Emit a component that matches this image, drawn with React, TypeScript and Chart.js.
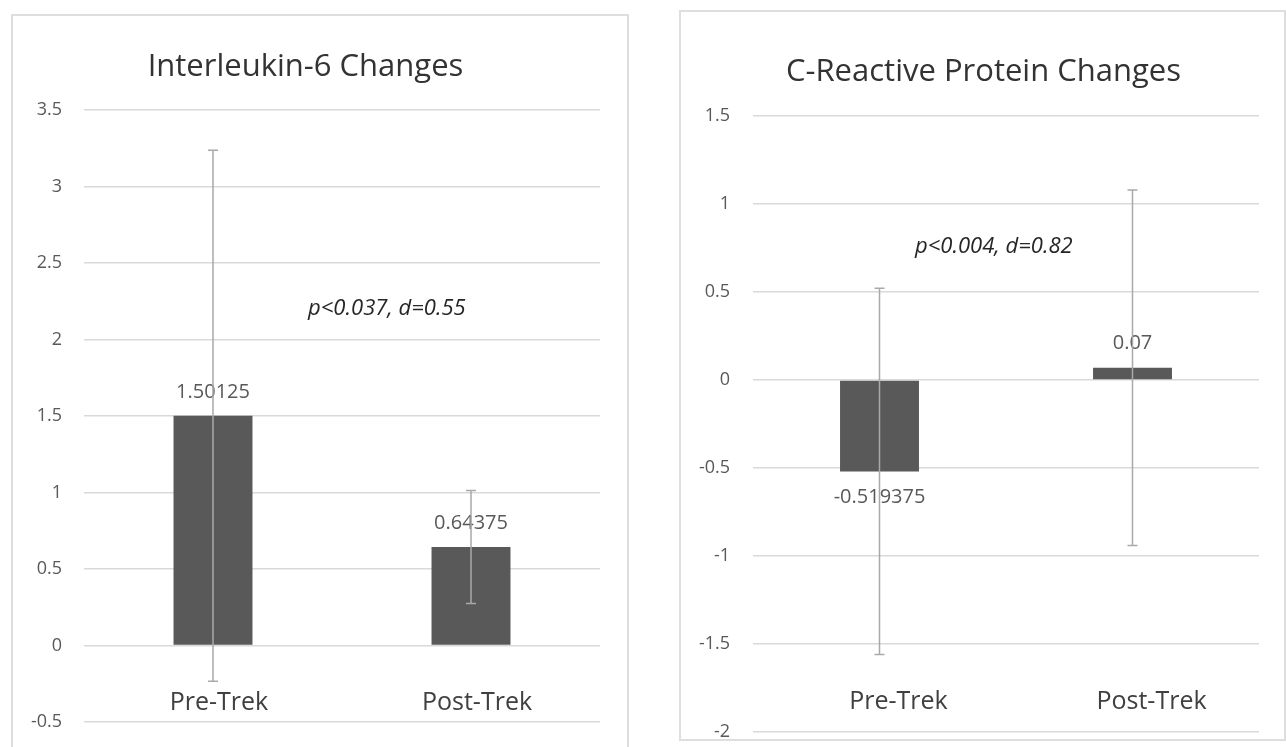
import React, { useEffect, useRef } from "react";
import { Chart, registerables } from "chart.js";

Chart.register(...registerables);

// ---------- data ----------
const CATEGORIES = ["Pre-Trek", "Post-Trek"];

const IL6_TITLE = "Interleukin-6 Changes";
const IL6_VALUES = [1.50125, 0.64375];
const IL6_ERRORS = [1.735, 0.37];
const IL6_TICKS = [-0.5, 0, 0.5, 1, 1.5, 2, 2.5, 3, 3.5];
const IL6_NOTE = "p<0.037, d=0.55";

const CRP_TITLE = "C-Reactive Protein Changes";
const CRP_VALUES = [-0.519375, 0.07];
const CRP_ERRORS = [1.04, 1.01];
const CRP_TICKS = [-2, -1.5, -1, -0.5, 0, 0.5, 1, 1.5];
const CRP_NOTE = "p<0.004, d=0.82";

const FONT = "'Open Sans', 'Noto Sans', sans-serif";

const overlayPlugin = {
  id: "overlay",
  afterDatasetsDraw(chart: any, _args: any, opts: any) {
    const { ctx } = chart;
    const x = chart.scales.x;
    const y = chart.scales.y;
    const meta = chart.getDatasetMeta(0);
    const data = chart.data.datasets[0].data as number[];
    ctx.save();
    // data labels
    ctx.font = `20px ${FONT}`;
    ctx.fillStyle = "#595959";
    ctx.textAlign = "center";
    ctx.textBaseline = "middle";
    meta.data.forEach((bar: any, i: number) => {
      const v = data[i];
      const yy = v >= 0 ? bar.y - 24 : bar.y + 26;
      ctx.fillText(String(v), bar.x, yy);
    });
    // error bars
    ctx.strokeStyle = "#a9a9a9";
    ctx.lineWidth = 1.5;
    const cap = 5;
    meta.data.forEach((bar: any, i: number) => {
      const v = data[i];
      const e = opts.errors[i];
      const cx = bar.x;
      const top = y.getPixelForValue(v + e);
      const bot = y.getPixelForValue(v - e);
      ctx.beginPath();
      ctx.moveTo(cx, top);
      ctx.lineTo(cx, bot);
      ctx.moveTo(cx - cap, top);
      ctx.lineTo(cx + cap, top);
      ctx.moveTo(cx - cap, bot);
      ctx.lineTo(cx + cap, bot);
      ctx.stroke();
    });
    // annotation
    ctx.font = `italic 22px ${FONT}`;
    ctx.fillStyle = "#262626";
    ctx.fillText(
      opts.note,
      x.getPixelForValue(opts.noteAt[0]),
      y.getPixelForValue(opts.noteAt[1])
    );
    ctx.restore();
  },
};

type PanelCfg = {
  title: string;
  values: number[];
  errors: number[];
  ticks: number[];
  note: string;
  noteAt: [number, number];
  xAxisAt: number;
  xLabelShift: number;
  width: number;
  height: number;
  rightGap: number;
  padBottom: number;
  yWidth: number;
  yPad: number;
  titlePadTop: number;
  titlePadBottom: number;
  barPct: number;
};

function Panel({ cfg, style }: { cfg: PanelCfg; style: React.CSSProperties }) {
  const ref = useRef<HTMLCanvasElement | null>(null);
  useEffect(() => {
    if (!ref.current) return;
    const chart = new Chart(ref.current, {
      type: "bar",
      data: {
        labels: CATEGORIES,
        datasets: [
          {
            data: cfg.values,
            backgroundColor: "#595959",
            borderWidth: 0,
            barPercentage: cfg.barPct,
            categoryPercentage: 1,
          },
        ],
      },
      options: {
        responsive: false,
        animation: false,
        devicePixelRatio: 1,
        layout: {
          padding: { left: 0, right: 0, top: 0, bottom: cfg.padBottom },
        },
        plugins: {
          legend: { display: false },
          tooltip: { enabled: false },
          title: {
            display: true,
            text: cfg.title,
            color: "#333333",
            font: { family: FONT, size: 31, weight: "normal", lineHeight: 1.2 },
            padding: { top: cfg.titlePadTop, bottom: cfg.titlePadBottom },
          },
          overlay: { errors: cfg.errors, note: cfg.note, noteAt: cfg.noteAt },
        } as any,
        scales: {
          x: {
            position: { y: cfg.xAxisAt } as any,
            grid: { display: false, drawTicks: false },
            border: { display: false },
            ticks: {
              color: "#404040",
              font: { family: FONT, size: 25 },
              padding: 0,
              maxRotation: 0,
              labelOffset: cfg.xLabelShift,
            },
          },
          y: {
            position: "left",
            min: cfg.ticks[0],
            max: cfg.ticks[cfg.ticks.length - 1],
            afterBuildTicks: (axis: any) => {
              axis.ticks = cfg.ticks.map((v) => ({ value: v }));
            },
            afterFit: (axis: any) => {
              axis.width = cfg.yWidth;
            },
            grid: {
              color: "#d9d9d9",
              lineWidth: 1.5,
              drawTicks: true,
              tickLength: cfg.yPad,
              tickColor: "rgba(0,0,0,0)",
            },
            border: { display: false },
            ticks: {
              color: "#595959",
              font: { family: FONT, size: 18 },
              padding: 0,
              callback: (v: any) => String(Number(v)),
            },
          },
          yGap: {
            type: "linear",
            position: "right",
            display: true,
            grid: { display: false, drawTicks: false },
            border: { display: false },
            ticks: { display: false },
            afterFit: (axis: any) => {
              axis.width = cfg.rightGap;
            },
          },
        },
      },
      plugins: [overlayPlugin as any],
    });
    return () => chart.destroy();
  }, [cfg]);
  return (
    <canvas
      ref={ref}
      width={cfg.width}
      height={cfg.height}
      style={{ position: "fixed", width: cfg.width, height: cfg.height, ...style }}
    />
  );
}

const IL6_CFG: PanelCfg = {
  title: IL6_TITLE,
  values: IL6_VALUES,
  errors: IL6_ERRORS,
  ticks: IL6_TICKS,
  note: IL6_NOTE,
  noteAt: [0.674, 2.2],
  xAxisAt: -0.2745,
  xLabelShift: 6,
  width: 591,
  height: 733,
  rightGap: 1,
  padBottom: 25,
  yWidth: 74,
  yPad: 22,
  titlePadTop: 34.4,
  titlePadBottom: 24.4,
  barPct: 0.306,
};

const CRP_CFG: PanelCfg = {
  title: CRP_TITLE,
  values: CRP_VALUES,
  errors: CRP_ERRORS,
  ticks: CRP_TICKS,
  note: CRP_NOTE,
  noteAt: [0.452, 0.755],
  xAxisAt: -1.745,
  xLabelShift: 19,
  width: 605,
  height: 736,
  rightGap: 27,
  padBottom: 15,
  yWidth: 72,
  yPad: 23,
  titlePadTop: 42.4,
  titlePadBottom: 25.4,
  barPct: 0.312,
};

export default function App() {
  return (
    <div>
      <div
        style={{
          position: "fixed",
          left: 11,
          top: 14,
          width: 618,
          height: 733,
          boxSizing: "border-box",
          border: "2px solid #dedede",
          borderBottom: "none",
        }}
      />
      <div
        style={{
          position: "fixed",
          left: 679,
          top: 10,
          width: 607,
          height: 731,
          boxSizing: "border-box",
          border: "2px solid #dedede",
        }}
      />
      <Panel cfg={IL6_CFG} style={{ left: 10, top: 14 }} />
      <Panel cfg={CRP_CFG} style={{ left: 681, top: 11 }} />
    </div>
  );
}
